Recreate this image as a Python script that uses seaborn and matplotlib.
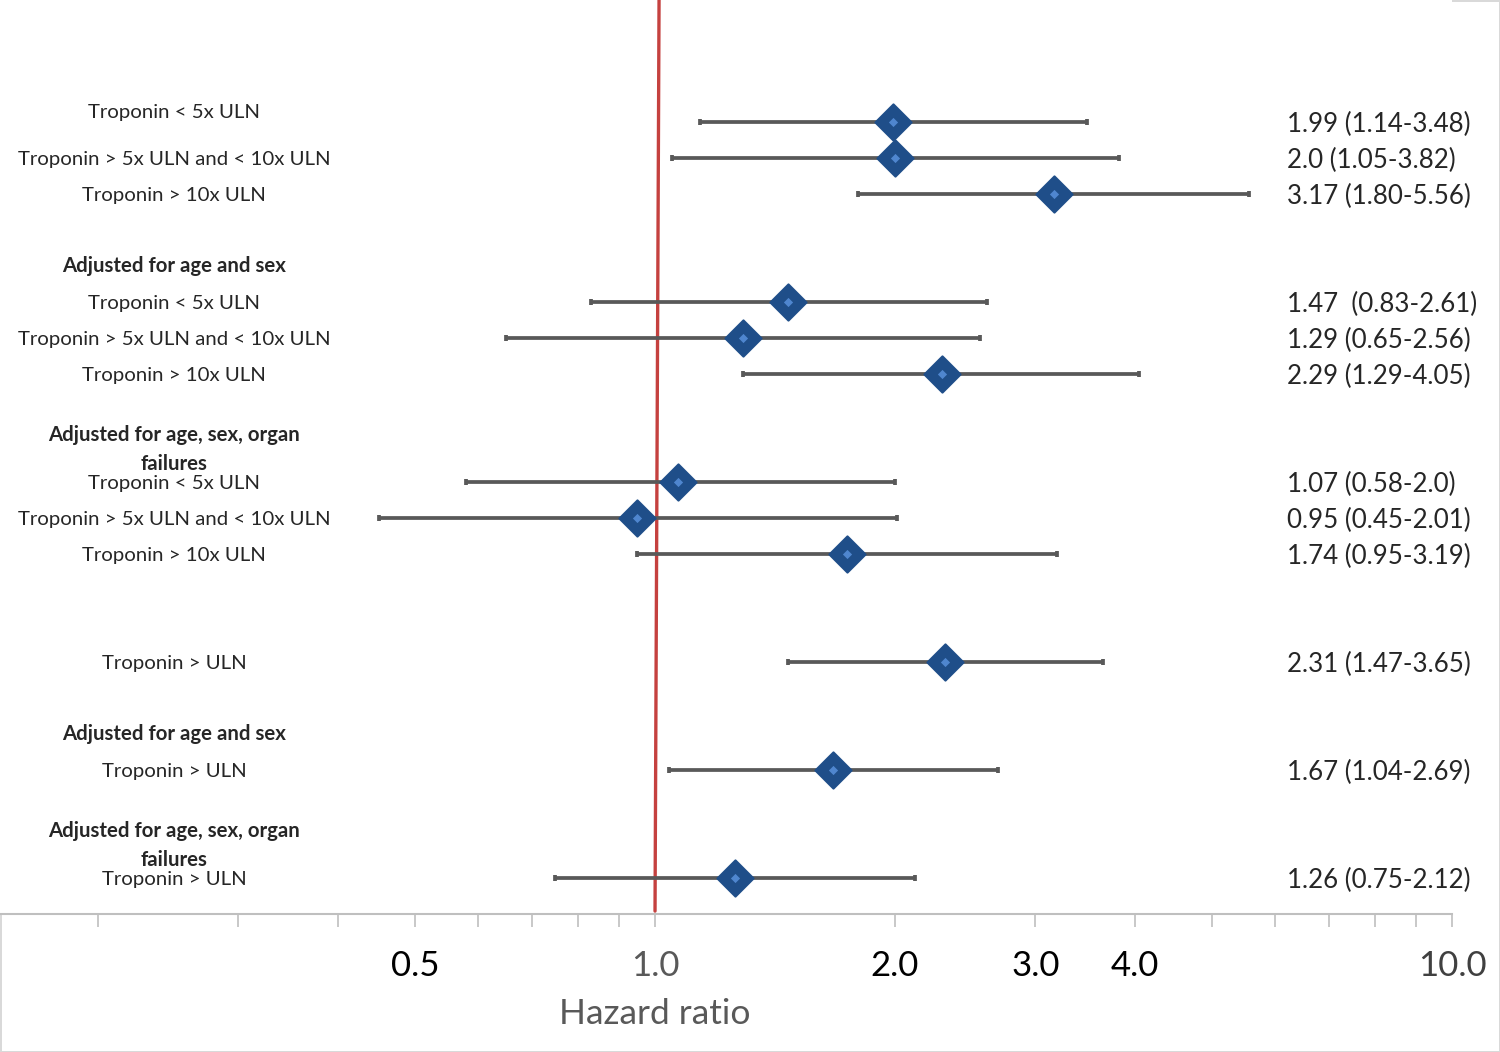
import numpy as np
import pandas as pd
import matplotlib
matplotlib.use("Agg")
import matplotlib.pyplot as plt
from matplotlib.ticker import FixedLocator, NullFormatter
import seaborn as sns

# forest plot data (hazard ratios with 95% CI)
row_labels = ["Troponin < 5x ULN", "Troponin > 5x ULN and < 10x ULN", "Troponin > 10x ULN",
              "Troponin < 5x ULN", "Troponin > 5x ULN and < 10x ULN", "Troponin > 10x ULN",
              "Troponin < 5x ULN", "Troponin > 5x ULN and < 10x ULN", "Troponin > 10x ULN",
              "Troponin > ULN", "Troponin > ULN", "Troponin > ULN"]
hr = [1.99, 2.0, 3.17, 1.47, 1.29, 2.29, 1.07, 0.95, 1.74, 2.31, 1.67, 1.26]
ci_low = [1.14, 1.05, 1.80, 0.83, 0.65, 1.29, 0.58, 0.45, 0.95, 1.47, 1.04, 0.75]
ci_high = [3.48, 3.82, 5.56, 2.61, 2.56, 4.05, 2.0, 2.01, 3.19, 3.65, 2.69, 2.12]
ci_text = ["1.99 (1.14-3.48)", "2.0 (1.05-3.82)", "3.17 (1.80-5.56)",
           "1.47  (0.83-2.61)", "1.29 (0.65-2.56)", "2.29 (1.29-4.05)",
           "1.07 (0.58-2.0)", "0.95 (0.45-2.01)", "1.74 (0.95-3.19)",
           "2.31 (1.47-3.65)", "1.67 (1.04-2.69)", "1.26 (0.75-2.12)"]
row_pos = [0, 1, 2, 5, 6, 7, 10, 11, 12, 15, 18, 21]

headers = ["Adjusted for age and sex", "Adjusted for age, sex, organ\nfailures",
           "Adjusted for age and sex", "Adjusted for age, sex, organ\nfailures"]
header_pos = [4, 9.1, 17, 20.1]

tick_values = [0.5, 1.0, 2.0, 3.0, 4.0, 10.0]
tick_labels = ["0.5", "1.0", "2.0", "3.0", "4.0", "10.0"]
minor_ticks = [0.2, 0.3, 0.4, 0.6, 0.7, 0.8, 0.9, 5, 6, 7, 8, 9]

df = pd.DataFrame({"label": row_labels, "hr": hr, "lo": ci_low, "hi": ci_high, "pos": row_pos})

sns.set_theme(style="white")
plt.rcParams["font.family"] = ["Lato", "DejaVu Sans"]

fig = plt.figure(figsize=(15, 10.52), dpi=100)
ax = fig.add_axes([0, 0.1312, 0.968, 0.8688])

# CI whiskers
ax.errorbar(df.hr, df.pos, xerr=[df.hr - df.lo, df.hi - df.hr], fmt="none",
            ecolor="#595959", elinewidth=2.7, capsize=2.5, capthick=2.7, zorder=2)

# reference line at HR = 1
ax.plot([1.0, 1.0117], [21.92, -3.39], color="#c5413f", lw=2.4, zorder=1)

# diamonds
sns.scatterplot(data=df, x="hr", y="pos", marker="D", s=340, color="#1f4e89",
                edgecolor="#1f4e89", linewidth=1.5, ax=ax, zorder=3, legend=False)
sns.scatterplot(data=df, x="hr", y="pos", marker="D", s=22, color="#4f86cf",
                linewidth=0, ax=ax, zorder=4, legend=False)

ax.set_xscale("log")
ax.set_xlim(0.1507, 10)
ax.set_ylim(22, -3.39)

ax.xaxis.set_major_locator(FixedLocator(tick_values))
ax.set_xticklabels(tick_labels)
ax.xaxis.set_minor_locator(FixedLocator(minor_ticks))
ax.xaxis.set_minor_formatter(NullFormatter())
ax.tick_params(axis="x", which="both", direction="out", length=9, width=1.2,
               color="#bfbfbf", bottom=True, pad=17, labelsize=25, labelcolor="black")
ax.set_yticks([])
ax.set_xlabel("")
ax.set_ylabel("")
for lbl, col in zip(ax.get_xticklabels(), ["black", "#595959", "black", "black", "black", "#404040"]):
    lbl.set_color(col)

for side in ["top", "left", "right"]:
    ax.spines[side].set_visible(False)
ax.spines["bottom"].set_color("#bfbfbf")
ax.spines["bottom"].set_linewidth(1.5)

tr = ax.get_yaxis_transform()
for i, (lab, y) in enumerate(zip(row_labels, row_pos)):
    ly = y - 0.27 if i == 0 else y + 0.03
    ax.text(0.1198, ly, lab, transform=tr, ha="center", va="center",
            fontsize=14.7, color="#262626")
for lab, y in zip(headers, header_pos):
    ax.text(0.1198, y, lab, transform=tr, ha="center", va="center", linespacing=1.55,
            fontsize=14.7, fontweight="bold", color="#262626")
for txt, y in zip(ci_text, row_pos):
    ax.text(0.8864, y + 0.08, txt, transform=tr, ha="left", va="center",
            fontsize=18.6, color="#262626")

ax.text(1.0, -0.109, "Hazard ratio", transform=ax.get_xaxis_transform(),
        ha="center", va="center", fontsize=25.5, color="#595959")

fig.patch.set_edgecolor("#d9d9d9")
fig.patch.set_linewidth(2)

fig.savefig("out.png", dpi=100, facecolor="white", edgecolor=fig.get_edgecolor())
